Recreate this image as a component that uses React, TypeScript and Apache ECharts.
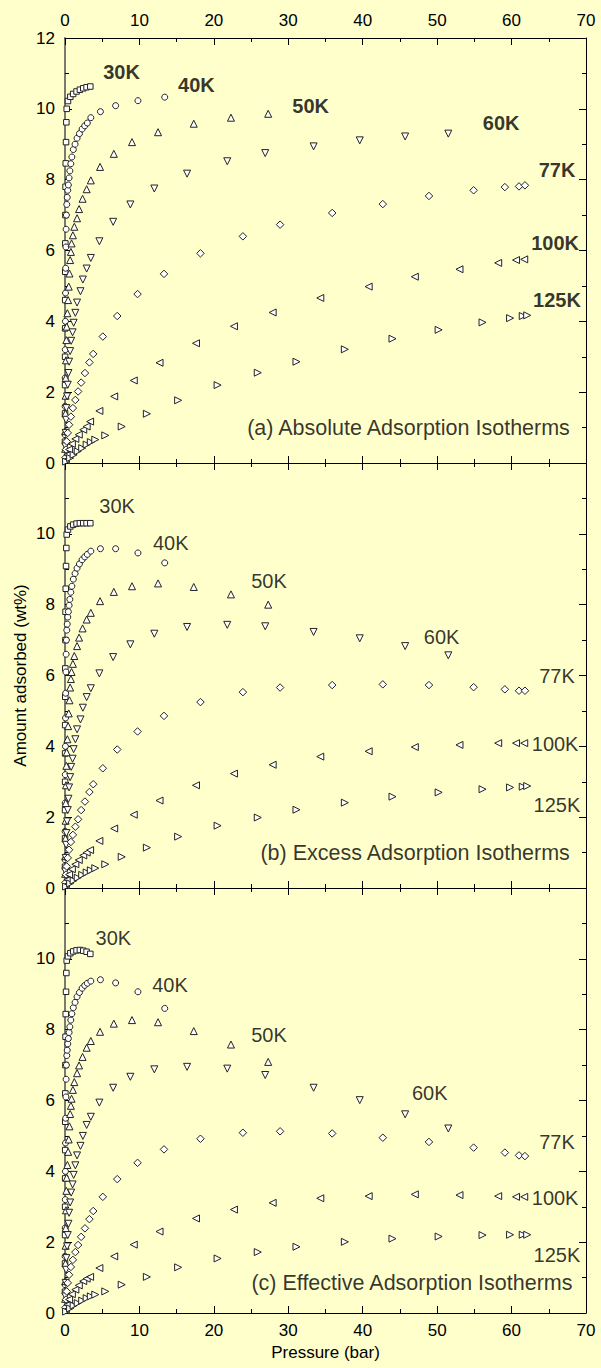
import React, { useEffect, useRef } from "react";
import * as echarts from "echarts";

const FONT = '"Liberation Sans", Arial, Helvetica, sans-serif';

const temperatures = ["30K", "40K", "50K", "60K", "77K", "100K", "125K"];
const panelTitles = [
  "(a) Absolute Adsorption Isotherms",
  "(b) Excess Adsorption Isotherms",
  "(c) Effective Adsorption Isotherms",
];
const xAxisName = "Pressure (bar)";
const yAxisName = "Amount adsorbed (wt%)";

// ---- 30K ----
const pressure30K = [0.004, 0.008, 0.012, 0.016, 0.02, 0.026, 0.033, 0.042, 0.055, 0.075, 0.1, 0.14, 0.18, 0.23, 0.4, 0.72, 1.1, 1.55, 2.0, 2.45, 2.9, 3.4];
const absolute30K = [0.6, 1.4, 2.2, 3.0, 3.8, 4.6, 5.4, 6.2, 7.0, 7.8, 8.46, 9.06, 9.62, 10.0, 10.22, 10.34, 10.42, 10.49, 10.54, 10.58, 10.61, 10.63];
const excess30K = [0.6, 1.4, 2.2, 3.0, 3.8, 4.6, 5.4, 6.2, 7.0, 7.8, 8.45, 9.09, 9.6, 9.98, 10.12, 10.21, 10.26, 10.29, 10.3, 10.3, 10.3, 10.3];
const effective30K = [0.6, 1.4, 2.2, 3.0, 3.8, 4.6, 5.4, 6.2, 7.0, 7.8, 8.44, 9.07, 9.6, 9.95, 10.07, 10.16, 10.21, 10.24, 10.25, 10.23, 10.2, 10.14];

// ---- 40K ----
const pressure40K = [0.01, 0.02, 0.03, 0.04, 0.055, 0.07, 0.09, 0.12, 0.15, 0.19, 0.24, 0.3, 0.37, 0.45, 0.55, 0.65, 0.78, 0.92, 1.12, 1.35, 1.62, 1.94, 2.3, 2.65, 3.0, 3.47, 4.76, 6.8, 9.8, 13.4];
const absolute40K = [0.8, 1.6, 2.4, 3.2, 4.0, 4.8, 5.5, 6.1, 6.6, 7.0, 7.3, 7.5, 7.7, 7.85, 8.05, 8.25, 8.45, 8.64, 8.85, 9.0, 9.17, 9.3, 9.43, 9.52, 9.6, 9.75, 9.92, 10.09, 10.23, 10.33];
const excess40K = [0.8, 1.6, 2.4, 3.2, 4.0, 4.8, 5.5, 6.1, 6.6, 7.0, 7.28, 7.45, 7.65, 7.8, 7.98, 8.15, 8.35, 8.52, 8.72, 8.88, 9.03, 9.15, 9.27, 9.35, 9.42, 9.51, 9.58, 9.58, 9.46, 9.18];
const effective40K = [0.8, 1.6, 2.4, 3.2, 4.0, 4.8, 5.5, 6.1, 6.6, 7.0, 7.27, 7.42, 7.6, 7.75, 7.92, 8.08, 8.27, 8.45, 8.62, 8.77, 8.93, 9.05, 9.17, 9.25, 9.31, 9.37, 9.41, 9.32, 9.07, 8.6];

// ---- 50K ----
const pressure50K = [0.02, 0.04, 0.06, 0.08, 0.1, 0.13, 0.18, 0.23, 0.32, 0.42, 0.5, 0.6, 0.69, 0.79, 0.88, 1.06, 1.25, 1.62, 1.89, 2.36, 2.91, 3.47, 4.71, 6.56, 9.0, 12.5, 17.3, 22.3, 27.3];
const absolute50K = [0.4, 0.9, 1.4, 1.9, 2.4, 2.9, 3.47, 3.85, 4.23, 4.6, 4.98, 5.35, 5.73, 5.96, 6.2, 6.43, 6.67, 6.91, 7.17, 7.46, 7.73, 7.98, 8.36, 8.73, 9.06, 9.34, 9.58, 9.75, 9.86];
const excess50K = [0.4, 0.9, 1.4, 1.9, 2.4, 2.9, 3.45, 3.83, 4.2, 4.57, 4.93, 5.3, 5.66, 5.9, 6.1, 6.33, 6.55, 6.83, 7.07, 7.33, 7.58, 7.77, 8.1, 8.36, 8.52, 8.6, 8.5, 8.29, 8.0];
const effective50K = [0.4, 0.9, 1.4, 1.9, 2.4, 2.9, 3.45, 3.82, 4.18, 4.55, 4.9, 5.27, 5.62, 5.85, 6.05, 6.3, 6.52, 6.77, 6.99, 7.23, 7.49, 7.68, 7.94, 8.17, 8.27, 8.21, 7.96, 7.58, 7.09];

// ---- 60K ----
const pressure60K = [0.05, 0.09, 0.14, 0.18, 0.28, 0.37, 0.46, 0.55, 0.69, 0.83, 1.02, 1.16, 1.39, 1.62, 2.08, 2.4, 2.91, 3.47, 4.62, 6.47, 8.78, 12.0, 16.4, 21.8, 26.9, 33.4, 39.6, 45.7, 51.5];
const absolute60K = [0.47, 0.85, 1.22, 1.55, 1.88, 2.21, 2.54, 2.86, 3.16, 3.45, 3.69, 3.96, 4.24, 4.53, 4.85, 5.18, 5.49, 5.79, 6.26, 6.81, 7.3, 7.75, 8.17, 8.52, 8.75, 8.94, 9.11, 9.22, 9.3];
const excess60K = [0.47, 0.85, 1.22, 1.55, 1.88, 2.2, 2.52, 2.84, 3.13, 3.42, 3.65, 3.92, 4.2, 4.48, 4.76, 5.09, 5.39, 5.64, 6.06, 6.52, 6.88, 7.18, 7.37, 7.43, 7.39, 7.23, 7.05, 6.83, 6.57];
const effective60K = [0.47, 0.85, 1.22, 1.55, 1.88, 2.2, 2.52, 2.83, 3.12, 3.4, 3.63, 3.9, 4.17, 4.45, 4.72, 5.0, 5.31, 5.54, 5.94, 6.36, 6.67, 6.88, 6.95, 6.9, 6.72, 6.36, 6.01, 5.61, 5.21];

// ---- 77K ----
const pressure77K = [0.05, 0.14, 0.23, 0.37, 0.55, 0.79, 1.06, 1.39, 1.76, 2.17, 2.68, 3.28, 3.79, 5.08, 7.02, 9.75, 13.3, 18.2, 23.9, 28.9, 35.9, 42.7, 48.9, 54.9, 59.1, 61.0, 61.8];
const absolute77K = [0.15, 0.38, 0.61, 0.85, 1.08, 1.31, 1.55, 1.78, 2.02, 2.27, 2.54, 2.84, 3.08, 3.57, 4.15, 4.77, 5.34, 5.92, 6.4, 6.73, 7.06, 7.31, 7.54, 7.7, 7.79, 7.81, 7.84];
const excess77K = [0.15, 0.38, 0.61, 0.85, 1.08, 1.3, 1.5, 1.73, 1.94, 2.2, 2.44, 2.71, 2.93, 3.38, 3.91, 4.42, 4.86, 5.25, 5.53, 5.66, 5.73, 5.75, 5.73, 5.67, 5.61, 5.57, 5.57];
const effective77K = [0.15, 0.38, 0.61, 0.85, 1.08, 1.3, 1.5, 1.72, 1.92, 2.15, 2.39, 2.65, 2.88, 3.28, 3.78, 4.24, 4.62, 4.92, 5.09, 5.13, 5.07, 4.95, 4.83, 4.67, 4.53, 4.45, 4.43];

// ---- 100K ----
const pressure100K = [0.1, 0.32, 0.55, 0.92, 1.39, 1.85, 2.45, 2.91, 3.37, 4.62, 6.61, 9.24, 12.7, 17.6, 22.7, 27.9, 34.3, 40.8, 47.0, 53.0, 58.2, 60.6, 61.7];
const absolute100K = [0.08, 0.23, 0.38, 0.54, 0.68, 0.8, 0.94, 1.03, 1.17, 1.47, 1.88, 2.33, 2.83, 3.38, 3.86, 4.25, 4.66, 4.98, 5.26, 5.47, 5.65, 5.73, 5.75];
const excess100K = [0.08, 0.23, 0.38, 0.53, 0.67, 0.79, 0.92, 1.0, 1.07, 1.33, 1.68, 2.07, 2.47, 2.9, 3.23, 3.48, 3.71, 3.86, 3.98, 4.04, 4.09, 4.09, 4.09];
const effective100K = [0.08, 0.23, 0.38, 0.53, 0.66, 0.78, 0.9, 0.97, 1.02, 1.27, 1.6, 1.93, 2.3, 2.67, 2.92, 3.11, 3.24, 3.3, 3.35, 3.33, 3.3, 3.28, 3.28];

// ---- 125K ----
const pressure125K = [0.15, 0.69, 1.16, 1.71, 2.31, 2.91, 3.47, 4.07, 5.41, 7.62, 11.0, 15.2, 20.5, 25.9, 31.1, 37.6, 44.0, 50.2, 56.1, 59.8, 61.5, 62.1];
const absolute125K = [0.04, 0.14, 0.23, 0.33, 0.42, 0.52, 0.59, 0.66, 0.78, 1.03, 1.39, 1.77, 2.2, 2.55, 2.86, 3.21, 3.51, 3.76, 3.97, 4.09, 4.15, 4.17];
const excess125K = [0.04, 0.13, 0.21, 0.29, 0.37, 0.44, 0.5, 0.56, 0.67, 0.88, 1.14, 1.45, 1.76, 1.99, 2.21, 2.41, 2.58, 2.7, 2.79, 2.84, 2.86, 2.88];
const effective125K = [0.04, 0.13, 0.21, 0.28, 0.35, 0.42, 0.47, 0.52, 0.61, 0.8, 1.02, 1.29, 1.54, 1.72, 1.87, 2.01, 2.1, 2.16, 2.2, 2.21, 2.21, 2.21];

// Label anchors in data coordinates (pressure, amount)
const absoluteLabelAt = [[7.6, 11.04], [17.65, 10.66], [33.0, 10.07], [58.6, 9.6], [66.1, 8.26], [65.85, 6.22], [66.1, 4.6]];
const excessLabelAt = [[7.0, 10.78], [14.2, 9.74], [27.4, 8.66], [50.6, 7.09], [66.1, 5.98], [65.85, 4.08], [66.1, 2.35]];
const effectiveLabelAt = [[6.5, 10.59], [14.1, 9.27], [27.4, 7.86], [49.0, 6.22], [66.1, 4.84], [65.85, 3.26], [66.1, 1.64]];
const titleAt = [[67.9, 1.0], [67.9, 1.0], [68.25, 0.86]];

const pressures = [pressure30K, pressure40K, pressure50K, pressure60K, pressure77K, pressure100K, pressure125K];
const panels = [
  [absolute30K, absolute40K, absolute50K, absolute60K, absolute77K, absolute100K, absolute125K],
  [excess30K, excess40K, excess50K, excess60K, excess77K, excess100K, excess125K],
  [effective30K, effective40K, effective50K, effective60K, effective77K, effective100K, effective125K],
];
const labelAnchors = [absoluteLabelAt, excessLabelAt, effectiveLabelAt];

const symbols = ["rect", "circle", "triangle", "triangle", "diamond", "triangle", "triangle"];
const symbolRotations = [0, 0, 0, 180, 0, 90, -90];
const symbolSizes = [5.5, 6, 7, 7, 7.5, 7, 7];

export default function App() {
  const ref = useRef<HTMLDivElement>(null);

  useEffect(() => {
    document.body.style.margin = "0";
    if (!ref.current) return;
    const chart = echarts.init(ref.current, undefined, { renderer: "svg" });

    const gridTops = [38, 463, 888];
    const grids = gridTops.map((top) => ({ left: 65, right: 15, top, height: 425 }));

    const tickCommon = {
      axisTick: { show: true, inside: true, length: 7, lineStyle: { color: "#000", width: 1 } },
      minorTick: { show: true, splitNumber: 2, length: 4, lineStyle: { color: "#000", width: 1 } },
      splitLine: { show: false },
      minorSplitLine: { show: false },
    };
    const labelStyle = { color: "#000", fontSize: 17, fontFamily: FONT };

    const xAxes: any[] = [];
    const yAxes: any[] = [];
    gridTops.forEach((_, i) => {
      xAxes.push({
        gridIndex: i, type: "value", min: 0, max: 70, interval: 10, position: "bottom",
        axisLine: { show: true, onZero: false, lineStyle: { color: "#000", width: 1 } },
        axisLabel: { show: i === 2, margin: 9, ...labelStyle },
        ...tickCommon,
      });
      xAxes.push({
        gridIndex: i, type: "value", min: 0, max: 70, interval: 10, position: "top",
        axisLine: { show: true, onZero: false, lineStyle: { color: "#000", width: 1 } },
        axisLabel: { show: i === 0, margin: 9, ...labelStyle },
        ...tickCommon,
      });
      yAxes.push({
        gridIndex: i, type: "value", min: 0, max: 12, interval: 2, position: "left",
        axisLine: { show: true, onZero: false, lineStyle: { color: "#7a7a70", width: 2 } },
        axisLabel: {
          show: true, margin: 10, ...labelStyle,
          formatter: (v: number) => (i > 0 && v === 12 ? "" : String(v)),
        },
        ...tickCommon,
      });
      yAxes.push({
        gridIndex: i, type: "value", min: 0, max: 12, interval: 2, position: "right",
        axisLine: { show: true, onZero: false, lineStyle: { color: "#000", width: 1 } },
        axisLabel: { show: false },
        ...tickCommon,
      });
    });

    const series: any[] = [];
    panels.forEach((amounts, i) => {
      amounts.forEach((vals, t) => {
        series.push({
          type: "scatter",
          name: `${panelTitles[i]} ${temperatures[t]}`,
          xAxisIndex: 2 * i,
          yAxisIndex: 2 * i,
          symbol: symbols[t],
          symbolRotate: symbolRotations[t],
          symbolSize: symbolSizes[t],
          itemStyle: { color: "#ffffff", borderColor: "#222", borderWidth: 1, opacity: 1 },
          silent: true,
          data: pressures[t].map((p, k) => [p, vals[k]]),
        });
      });
      // temperature labels
      series.push({
        type: "scatter",
        xAxisIndex: 2 * i,
        yAxisIndex: 2 * i,
        symbolSize: 1,
        itemStyle: { color: "transparent" },
        silent: true,
        label: {
          show: true,
          position: "inside",
          formatter: (p: any) => p.name,
          color: "#000",
          fontSize: 20,
          fontWeight: i === 0 ? "bold" : "normal",
          fontFamily: FONT,
        },
        data: labelAnchors[i].map((c, t) => ({ name: temperatures[t], value: c })),
        z: 5,
      });
      // panel title
      series.push({
        type: "scatter",
        xAxisIndex: 2 * i,
        yAxisIndex: 2 * i,
        symbolSize: 1,
        itemStyle: { color: "transparent" },
        silent: true,
        label: {
          show: true,
          position: "left",
          distance: 0,
          formatter: (p: any) => p.name,
          color: "#000",
          fontSize: 21.5,
          fontFamily: FONT,
        },
        data: [{ name: panelTitles[i], value: titleAt[i] }],
        z: 5,
      });
    });

    chart.setOption({
      animation: false,
      backgroundColor: "#FFFFCC",
      grid: grids,
      xAxis: xAxes,
      yAxis: yAxes,
      series,
      graphic: [
        {
          type: "text",
          x: 20,
          y: 675.5,
          rotation: Math.PI / 2,
          style: {
            text: yAxisName, fill: "#000", fontSize: 17, fontFamily: FONT,
            textAlign: "center", textVerticalAlign: "middle",
          },
        },
        {
          type: "text",
          x: 325.5,
          y: 1352,
          style: {
            text: xAxisName, fill: "#000", fontSize: 17, fontFamily: FONT,
            textAlign: "center", textVerticalAlign: "middle",
          },
        },
      ],
    });

    return () => chart.dispose();
  }, []);

  return (
    <div
      ref={ref}
      style={{ position: "absolute", left: 0, top: 0, width: 601, height: 1368, background: "#FFFFCC" }}
    />
  );
}
